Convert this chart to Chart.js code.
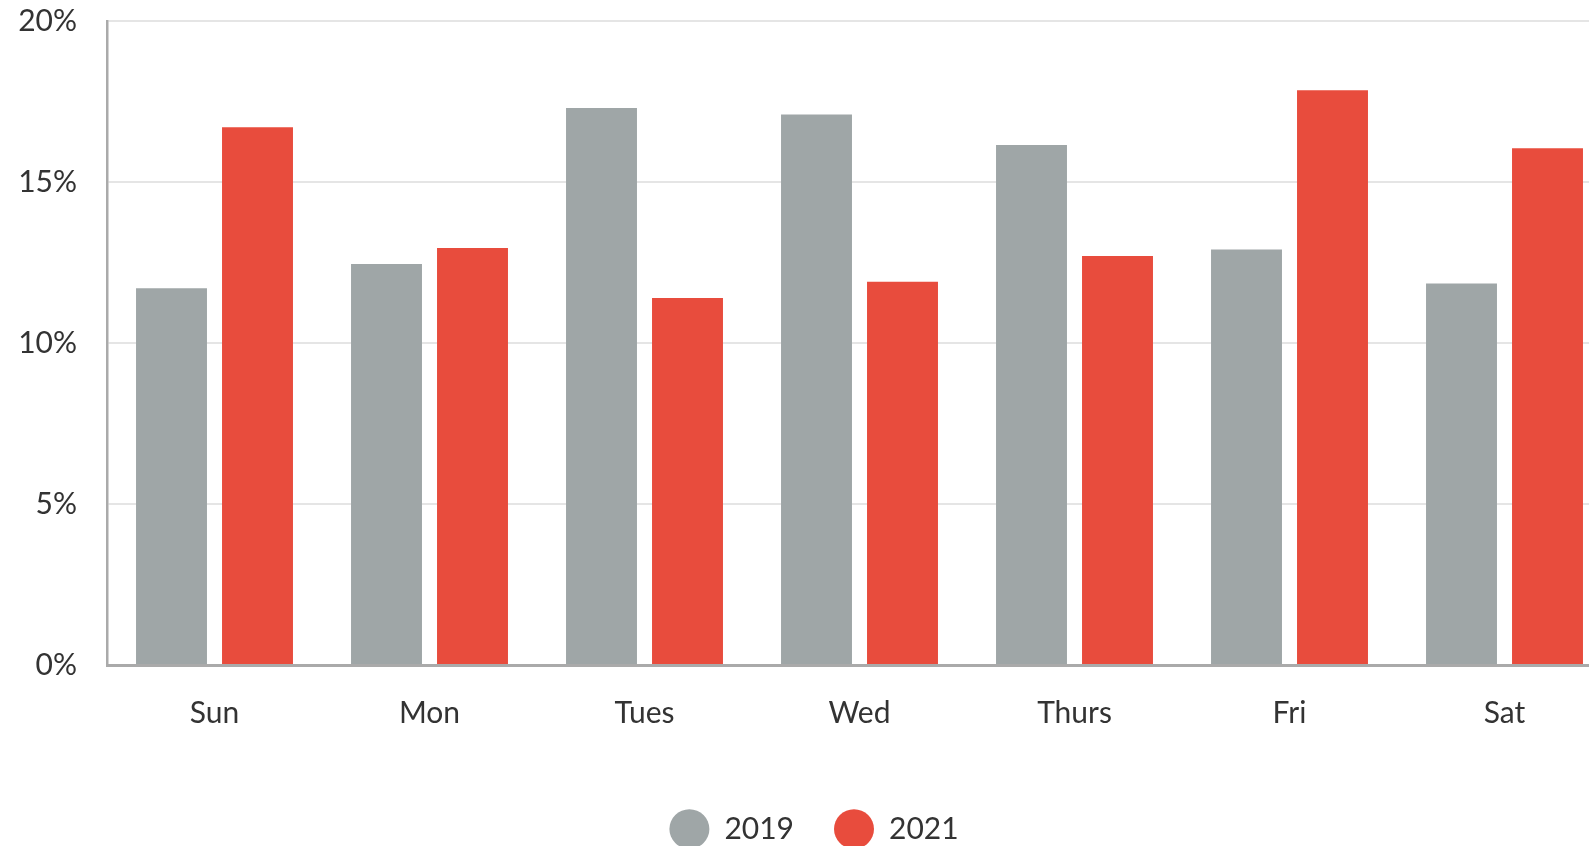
<!DOCTYPE html>
<html>
<head>
<meta charset="utf-8">
<script src="https://cdn.jsdelivr.net/npm/chart.js@4"></script>
<style>
  html, body { margin: 0; padding: 0; background: #fff; overflow: hidden; }
  #wrap { position: relative; width: 1642px; height: 846px; }
</style>
</head>
<body>
<div id="wrap"><canvas id="myChart"></canvas></div>
<script>
// days of the week
var days = ["Sun", "Mon", "Tues", "Wed", "Thurs", "Fri", "Sat"];
// share of week, percent
var values2019 = [11.7, 12.45, 17.3, 17.1, 16.15, 12.9, 11.85];
var values2021 = [16.7, 12.95, 11.4, 11.9, 12.7, 17.85, 16.05];
var yTicks = [0, 5, 10, 15, 20];

var grey = "#9fa6a7";
var red = "#e84c3d";

Chart.defaults.font.family = "Lato, 'Open Sans', sans-serif";
Chart.defaults.font.size = 30;
Chart.defaults.color = "#333333";

new Chart("myChart", {
  type: "bar",
  data: {
    labels: days,
    datasets: [{
      label: "2019",
      backgroundColor: grey,
      data: values2019
    }, {
      label: "2021",
      backgroundColor: red,
      data: values2021
    }]
  },
  options: {
    responsive: true,
    maintainAspectRatio: false,
    animation: false,
    layout: {
      padding: { left: 0, right: 14, top: 21, bottom: -8 }
    },
    datasets: {
      bar: { barPercentage: 0.825, categoryPercentage: 0.8 }
    },
    scales: {
      x: {
        grid: { display: false, drawTicks: false },
        border: { color: "#aaaaaa", width: 3 },
        ticks: { padding: 30 },
        afterFit: function (scale) { scale.height = 109; }
      },
      y: {
        min: yTicks[0],
        max: yTicks[yTicks.length - 1],
        grid: {
          color: "#e5e5e5",
          lineWidth: 2,
          drawTicks: true,
          tickLength: 30,
          tickColor: "rgba(0,0,0,0)"
        },
        border: { color: "#aaaaaa", width: 2.5 },
        ticks: {
          stepSize: 5,
          padding: 0,
          callback: function (v) { return v + "%"; }
        },
        afterFit: function (scale) { scale.width = 107; }
      },
      // empty spacer on the right so the legend sits where the original does
      spacer: {
        type: "linear",
        position: "right",
        grid: { display: false, drawTicks: false },
        border: { display: false },
        ticks: { display: false, padding: 0 },
        afterFit: function (scale) { scale.width = 16; }
      }
    },
    plugins: {
      tooltip: { enabled: false },
      legend: {
        position: "bottom",
        labels: {
          usePointStyle: true,
          pointStyle: "circle",
          pointStyleWidth: 40,
          boxHeight: 28,
          padding: 40
        }
      }
    }
  }
});
</script>
</body>
</html>
